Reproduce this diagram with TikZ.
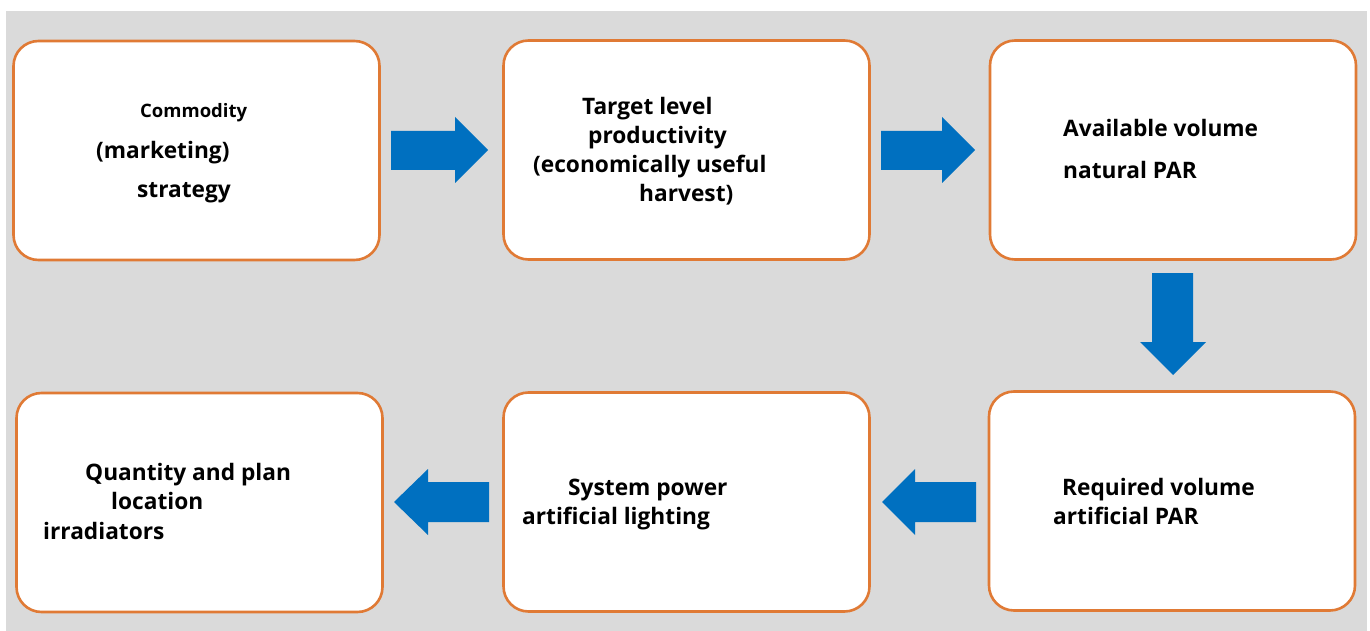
\documentclass[tikz,border=0pt]{standalone}
\usepackage{fontspec}
\setmainfont{Open Sans}
\begin{document}
\begin{tikzpicture}[x=1pt,y=-1pt,
  stepbox/.style={draw=boxorange, line width=2.6pt, fill=white, rounded corners=25pt,
    minimum width=366pt, minimum height=219pt, inner sep=0pt},
  txt/.style={anchor=base west, inner sep=0pt, font=\bfseries\fontsize{22.7}{26}\selectfont},
  smalltxt/.style={txt, font=\bfseries\fontsize{18.5}{22}\selectfont},
  blockarrow/.style={fill=arrowblue, draw=none}]
\definecolor{boxorange}{HTML}{E07A35}
\definecolor{arrowblue}{HTML}{0070C0}
\definecolor{panelgray}{HTML}{DADADA}
\useasboundingbox (0,0) rectangle (1370,631);
\fill[panelgray] (6,11) rectangle (1367,631);

% process boxes
\node[stepbox] (b1) at (196.5,150.5) {};
\node[stepbox] (b2) at (686.5,150) {};
\node[stepbox] (b3) at (1173,150) {};
\node[stepbox] (b6) at (1172,501) {};
\node[stepbox] (b5) at (686.5,502) {};
\node[stepbox] (b4) at (199.5,502.5) {};

% box texts
\node[smalltxt] (t1a) at (140,118) {Commodity};
\node[txt] (t1b) at (96,159) {(marketing)};
\node[txt] (t1c) at (137,197) {strategy};

\node[txt] (t2a) at (582,115) {Target level};
\node[txt] (t2b) at (588,144) {productivity};
\node[txt] (t2c) at (533,173) {(economically useful};
\node[txt] (t2d) at (639,202) {harvest)};

\node[txt] (t3a) at (1063,137) {Available volume};
\node[txt] (t3b) at (1063,179) {natural PAR};

\node[txt] (t6a) at (1062,495) {Required volume};
\node[txt] (t6b) at (1053,524) {artificial PAR};

\node[txt] (t5a) at (568,495) {System power};
\node[txt] (t5b) at (522,524) {artificial lighting};

\node[txt] (t4a) at (85,480) {Quantity and plan};
\node[txt] (t4b) at (111,509) {location};
\node[txt] (t4c) at (43,539) {irradiators};

% block arrows between the boxes
\fill[blockarrow] (391,131) -- (455,131) -- (455,117) -- (488,150) -- (455,183)
  -- (455,170) -- (391,170) -- cycle;
\fill[blockarrow] (881,131) -- (942,131) -- (942,117) -- (975,150) -- (942,183)
  -- (942,170) -- (881,170) -- cycle;
\fill[blockarrow] (1152,273) -- (1193,273) -- (1193,342) -- (1206,342) -- (1173,375)
  -- (1140,342) -- (1152,342) -- cycle;
\fill[blockarrow] (976,482) -- (915,482) -- (915,469) -- (882,502) -- (915,535)
  -- (915,522) -- (976,522) -- cycle;
\fill[blockarrow] (489,482) -- (428,482) -- (428,469) -- (394,502) -- (428,535)
  -- (428,522) -- (489,522) -- cycle;
\end{tikzpicture}
\end{document}
